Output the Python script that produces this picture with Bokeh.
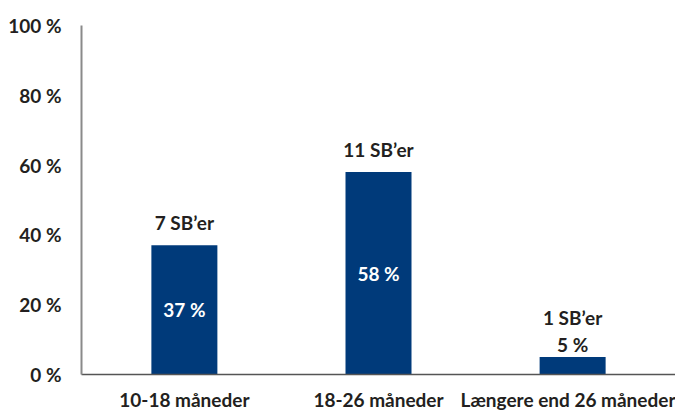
from bokeh.plotting import figure
from bokeh.models import ColumnDataSource, FactorRange, Range1d, FixedTicker
from bokeh.core.properties import value
from bokeh.embed import file_html
from bokeh.resources import INLINE

categories = ["10-18 måneder", "18-26 måneder", "Længere end 26 måneder"]
shares = [37, 58, 5]
counts = [7, 11, 1]
y_ticks = [0, 20, 40, 60, 80, 100]
y_tick_labels = ["0 %", "20 %", "40 %", "60 %", "80 %", "100 %"]

FONT = "Lato"
FS = "19px"
BAR = "#003a7a"
TXT = "#231f20"

count_labels = [f"{c} SB\u2019er" for c in counts]
share_labels = [f"{s} %" for s in shares]
inside = [s >= 15 for s in shares]

src = ColumnDataSource(dict(cat=categories, share=shares, count_lbl=count_labels))
in_src = ColumnDataSource(dict(
    cat=[c for c, i in zip(categories, inside) if i],
    y=[s / 2 for s, i in zip(shares, inside) if i],
    lbl=[l for l, i in zip(share_labels, inside) if i],
))
out_src = ColumnDataSource(dict(
    cat=[c for c, i in zip(categories, inside) if not i],
    y=[s for s, i in zip(shares, inside) if not i],
    lbl=[l for l, i in zip(share_labels, inside) if not i],
))
src.data["off"] = [-23 if i else -40 for i in inside]

p = figure(frame_width=594, frame_height=349, output_backend="svg", toolbar_location=None,
           x_range=FactorRange(*categories),
           y_range=Range1d(0, 100),
           min_border_left=81, min_border_right=0, min_border_top=25, min_border_bottom=10)
p.x_range.range_padding = 0.02
p.outline_line_color = None
p.grid.visible = False
p.background_fill_color = "white"
p.border_fill_color = "white"

p.vbar(x="cat", top="share", width=0.34, source=src, fill_color=BAR, line_color=None)

p.text(x="cat", y="y", text="lbl", source=in_src, text_color="white",
       text_font=value(FONT), text_font_style="bold", text_font_size=FS,
       text_align="center", text_baseline="middle")
p.text(x="cat", y="y", text="lbl", source=out_src, text_color=TXT,
       text_font=value(FONT), text_font_style="bold", text_font_size=FS,
       text_align="center", text_baseline="alphabetic", y_offset=-13)
p.text(x="cat", y="share", text="count_lbl", source=src, text_color=TXT,
       text_font=value(FONT), text_font_style="bold", text_font_size=FS,
       text_align="center", text_baseline="alphabetic", y_offset="off")

p.yaxis.ticker = FixedTicker(ticks=y_ticks)
p.yaxis.major_label_overrides = {t: l for t, l in zip(y_ticks, y_tick_labels)}
p.yaxis.major_tick_line_color = None
p.yaxis.minor_tick_line_color = None
p.yaxis.axis_line_color = "#8a8a8a"
p.yaxis.axis_line_width = 2
p.yaxis.major_label_standoff = 14
p.yaxis.major_label_text_font = FONT
p.yaxis.major_label_text_font_style = "bold"
p.yaxis.major_label_text_font_size = FS
p.yaxis.major_label_text_color = TXT

p.xaxis.major_tick_line_color = None
p.xaxis.minor_tick_line_color = None
p.xaxis.axis_line_color = "#555555"
p.xaxis.axis_line_width = 1.5
p.xaxis.major_label_standoff = 7
p.xaxis.major_label_text_font = FONT
p.xaxis.major_label_text_font_style = "bold"
p.xaxis.major_label_text_font_size = FS
p.xaxis.major_label_text_color = TXT

open("out.html", "w").write(file_html(p, INLINE))
